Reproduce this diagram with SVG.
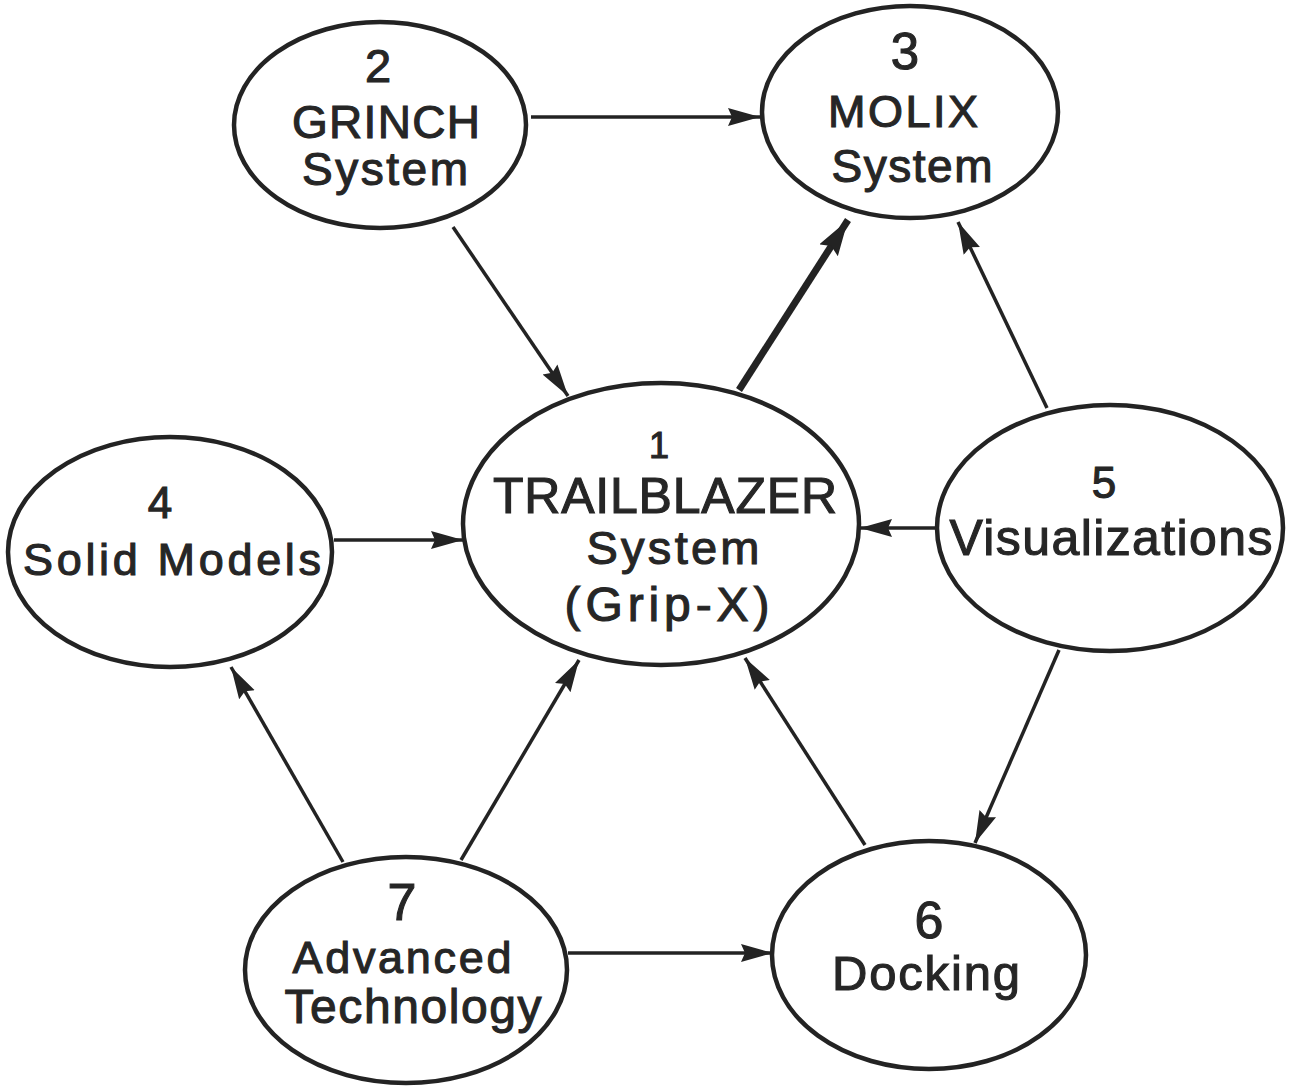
<svg xmlns="http://www.w3.org/2000/svg" width="1289" height="1088" viewBox="0 0 1289 1088">
<style>
.node ellipse{fill:none;stroke:#232323;stroke-width:4.5}
.node text{font-family:"Liberation Sans","DejaVu Sans",Arial,sans-serif;fill:#262626;stroke:#262626;stroke-width:1.1;text-anchor:middle}
.edge{stroke:#232323;stroke-width:3.5;fill:none;marker-end:url(#ah)}
.thick{stroke-width:7;marker-end:url(#ahb)}
</style>
<defs>
<marker id="ah" markerUnits="userSpaceOnUse" markerWidth="34" markerHeight="22" refX="32" refY="10" orient="auto"><path d="M0,1 L32,10 L0,19 L4,10 Z" fill="#232323"/></marker>
<marker id="ahb" markerUnits="userSpaceOnUse" markerWidth="40" markerHeight="26" refX="36" refY="11" orient="auto"><path d="M0,0 L36,11 L0,22 L5,11 Z" fill="#232323"/></marker>
</defs>
<rect width="1289" height="1088" fill="#ffffff"/>
<g id="connectors">
<line class="edge" x1="531" y1="117" x2="760" y2="117"/>
<line class="edge" x1="453" y1="227" x2="568" y2="396"/>
<line class="edge thick" x1="739" y1="390" x2="848" y2="220"/>
<line class="edge" x1="1047" y1="408" x2="958" y2="222"/>
<line class="edge" x1="334" y1="540" x2="463" y2="540"/>
<line class="edge" x1="937" y1="528" x2="860" y2="528"/>
<line class="edge" x1="1059" y1="650" x2="975" y2="843"/>
<line class="edge" x1="865" y1="845" x2="745" y2="658"/>
<line class="edge" x1="461" y1="860" x2="579" y2="660"/>
<line class="edge" x1="343" y1="862" x2="231" y2="667"/>
<line class="edge" x1="568" y1="953" x2="773" y2="953"/>
</g>
<g id="node1" class="node">
<ellipse cx="661" cy="524" rx="198" ry="141"/>
<text x="659" y="458" font-size="36">1</text>
<text x="665" y="513" font-size="50" textLength="344">TRAILBLAZER</text>
<text x="673" y="564" font-size="47" textLength="173">System</text>
<text x="667" y="621" font-size="48" textLength="205">(Grip-X)</text>
</g>
<g id="node2" class="node">
<ellipse cx="380" cy="125" rx="146" ry="103"/>
<text x="378" y="82" font-size="47">2</text>
<text x="386" y="138" font-size="46" textLength="188">GRINCH</text>
<text x="385" y="185" font-size="46" textLength="166">System</text>
</g>
<g id="node3" class="node">
<ellipse cx="910" cy="112" rx="148" ry="106"/>
<text x="905" y="69" font-size="51">3</text>
<text x="903" y="127" font-size="45" textLength="150">MOLIX</text>
<text x="912" y="182" font-size="46" textLength="161">System</text>
</g>
<g id="node4" class="node">
<ellipse cx="170" cy="552" rx="162" ry="115"/>
<text x="160" y="518" font-size="44">4</text>
<text x="172" y="575" font-size="45" textLength="298">Solid Models</text>
</g>
<g id="node5" class="node">
<ellipse cx="1110" cy="528" rx="173" ry="123"/>
<text x="1104" y="498" font-size="44">5</text>
<text x="1111" y="555" font-size="50" textLength="323">Visualizations</text>
</g>
<g id="node6" class="node">
<ellipse cx="929" cy="955" rx="157" ry="114"/>
<text x="929" y="938" font-size="52">6</text>
<text x="926" y="990" font-size="49" textLength="188">Docking</text>
</g>
<g id="node7" class="node">
<ellipse cx="406" cy="970" rx="161" ry="113"/>
<text x="402" y="920" font-size="52">7</text>
<text x="402" y="973" font-size="45" textLength="219">Advanced</text>
<text x="413" y="1023" font-size="48" textLength="257">Technology</text>
</g>
</svg>
